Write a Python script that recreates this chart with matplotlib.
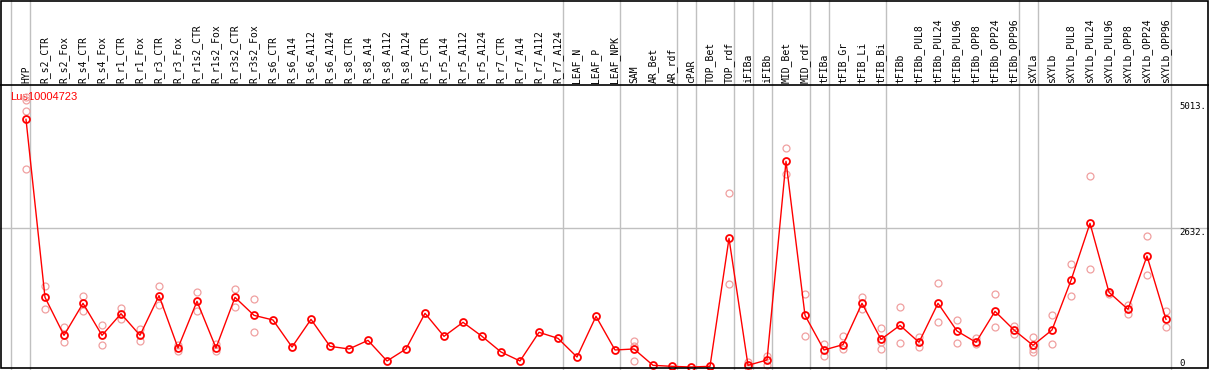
import matplotlib
matplotlib.use("Agg")
import matplotlib.pyplot as plt
from matplotlib.patches import Rectangle

labels = ["HYP", "R_s2_CTR", "R_s2_Fox", "R_s4_CTR", "R_s4_Fox", "R_r1_CTR", "R_r1_Fox",
          "R_r3_CTR", "R_r3_Fox", "R_r1s2_CTR", "R_r1s2_Fox", "R_r3s2_CTR", "R_r3s2_Fox",
          "R_s6_CTR", "R_s6_A14", "R_s6_A112", "R_s6_A124", "R_s8_CTR", "R_s8_A14",
          "R_s8_A112", "R_s8_A124", "R_r5_CTR", "R_r5_A14", "R_r5_A112", "R_r5_A124",
          "R_r7_CTR", "R_r7_A14", "R_r7_A112", "R_r7_A124", "LEAF_N", "LEAF_P", "LEAF_NPK",
          "SAM", "AR_Bet", "AR_rdf", "cPAR", "TOP_Bet", "TOP_rdf", "iFIBa", "iFIBb",
          "MID_Bet", "MID_rdf", "tFIBa", "tFIB_Gr", "tFIB_Li", "tFIB_Bi", "tFIBb",
          "tFIBb_PUL8", "tFIBb_PUL24", "tFIBb_PUL96", "tFIBb_OPP8", "tFIBb_OPP24",
          "tFIBb_OPP96", "sXYLa", "sXYLb", "sXYLb_PUL8", "sXYLb_PUL24", "sXYLb_PUL96",
          "sXYLb_OPP8", "sXYLb_OPP24", "sXYLb_OPP96"]

# mean expression per sample
means = [4690, 1326, 608, 1213, 608, 1017, 608, 1358, 369, 1251, 369, 1326, 986,
         898, 387, 910, 400, 350, 513, 123, 350, 1024, 589, 854, 589, 293, 123, 665, 551,
         198, 967, 331, 350, 41, 22, 9, 22, 2441, 41, 142, 3897, 986, 331, 432, 1213,
         532, 797, 476, 1213, 690, 476, 1062, 709, 419, 709, 1647, 2725, 1421, 1099, 2107, 910]

# replicate values (empty where only one value)
reps = [[5106, 5056, 4841, 3745], [1547, 1099], [759, 476], [1351, 1074], [797, 432],
        [1118, 923], [728, 507], [1547, 1175], [432, 318], [1420, 1074], [444, 306],
        [1490, 1150], [1288, 665],
        [], [], [], [], [], [], [], [], [], [], [], [], [], [], [], [], [], [], [],
        [507, 413, 123], [], [], [], [], [3307, 1572], [110, 16], [224, 41],
        [4143, 3657], [1389, 589], [444, 224], [589, 356], [1334, 1112], [747, 476, 356],
        [1137, 457], [583, 394], [1591, 854], [898, 457], [551, 444], [1383, 759],
        [791, 627], [576, 343, 293], [986, 438], [1956, 1351], [3613, 1855], [1421, 1389],
        [1181, 1005], [2485, 1742], [1068, 759]]

# samples followed by a grey separator (-1 = before the first one)
separators = [-1, 0, 28, 31, 34, 35, 37, 38, 39, 41, 42, 45, 52, 53, 60]

gene = "Lus10004723"
axis_max = 5264
tick_vals = [5013, 2632]

W, H = 1209, 370
x0, dx = 26, 19          # pixel of first sample, pixels per sample
y0, sy = 367.5, 0.05291  # pixel row of zero, pixels per unit

fig = plt.figure(figsize=(W / 100, H / 100), dpi=100)
ax = fig.add_axes([0, 0, 1, 1])
ax.set_xlim(-x0 / dx, (W - x0) / dx)
ax.set_ylim(-(H - y0) / sy, y0 / sy)
ax.axis("off")

grey = "#c0c0c0"
for s in separators:
    ax.axvline(s + 4.5 / dx, color=grey, lw=1, zorder=1)
ax.axhline(axis_max / 2, color=grey, lw=1, zorder=1)

# black rule under the labels and frame
ax.plot([0, 1], [(H - 85) / H] * 2, color="black", lw=1.2, transform=ax.transAxes, zorder=5)
ax.add_patch(Rectangle((1 / W, 2 / H), 1206.5 / W, 367.5 / H, fill=False, ec="black",
                       lw=1.2, transform=ax.transAxes, zorder=6, clip_on=False))

xs = list(range(len(labels)))
for i, r in enumerate(reps):
    if r:
        ax.plot([i] * len(r), r, "o", ms=5, mfc="none", mec="#f0a0a0", mew=0.9, zorder=3)

ax.plot(xs, means, "-", color="red", lw=1, zorder=4)
ax.plot(xs, means, "o", ms=5, mfc="none", mec="red", mew=1.3, zorder=4)

mono = "DejaVu Sans Mono"
for i, lab in enumerate(labels):
    ax.text(i, (H - 83) / H, lab, rotation=90, ha="center", va="bottom",
            family=mono, fontsize=7, transform=ax.get_xaxis_transform())

xr = (1179 - x0) / dx
for v in tick_vals:
    ax.text(xr, v, str(v) + ".", ha="left", va="top", family=mono, fontsize=6.5)
ax.text(xr, 0, "0", ha="left", va="bottom", family=mono, fontsize=6.5)

ax.text(10 / W, (H - 97) / H, gene, color="red", ha="left", va="center",
        family="Liberation Sans", fontsize=8, transform=ax.transAxes, zorder=2)

fig.savefig("out.png", dpi=100)
